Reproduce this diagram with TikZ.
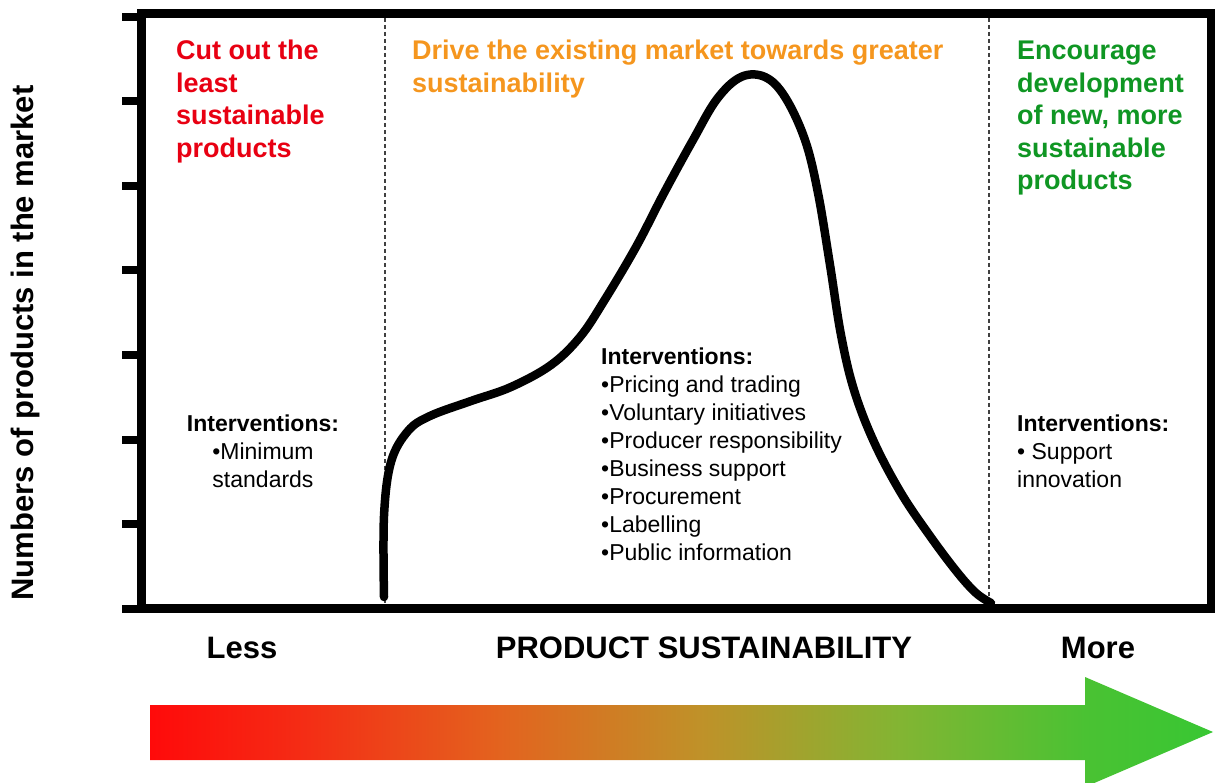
\documentclass[tikz,border=0pt]{standalone}
\usepackage{fontspec}
\setmainfont{Liberation Sans}
\usetikzlibrary{calc}
\definecolor{cutred}{RGB}{232,0,18}
\definecolor{driveorange}{RGB}{245,150,30}
\definecolor{newgreen}{RGB}{15,150,35}
\pgfdeclarehorizontalshading{sustainshade}{100bp}{rgb(0bp)=(1,0.04,0.04); rgb(25bp)=(1,0.04,0.04); rgb(32bp)=(0.96,0.17,0.08); rgb(41.5bp)=(0.89,0.39,0.12); rgb(50.9bp)=(0.75,0.57,0.16); rgb(60.3bp)=(0.51,0.71,0.2); rgb(69bp)=(0.29,0.76,0.2); rgb(75bp)=(0.22,0.78,0.2); rgb(100bp)=(0.22,0.78,0.2)}
\tikzset{
	heading/.style={anchor=north west, inner sep=0pt, align=left, font=\bfseries\fontsize{27}{32.5}\selectfont},
	intervention/.style={inner sep=0pt, font=\fontsize{23}{28}\selectfont},
	axislabel/.style={inner sep=0pt, font=\bfseries\fontsize{31}{36}\selectfont},
	divider/.style={dash pattern=on 4pt off 3pt, line width=1.3pt, black!75},
}

\begin{document}
\begin{tikzpicture}[x=1pt,y=-1pt]
				\useasboundingbox (0,0) rectangle (1215,783);
				
				% axis ticks and frame
				\foreach \k in {0,...,7}
					\draw[line width=8pt] (122,{17+84.5*\k}) -- (141,{17+84.5*\k});
				\draw[line width=9pt] (141,14) rectangle (1211,608);
				\draw[divider] (385,18) -- (385,604);
				\draw[divider] (989,18) -- (989,604);
				
				% distribution of products
				\draw[line width=8.5pt, line cap=round] plot[smooth, tension=0.6] coordinates {
					(384,597) (384,516) (391,462) (408,431) (430,416) (471,401) (511,387)
					(551,365) (580,337) (604,301) (636,247) (664,193) (693,140) (717,99)
					(741,77) (765,77) (785,97) (805,140) (818,193) (830,265) (841,335)
					(854,390) (874,442) (901,493) (930,536) (957,572) (976,593) (991,603)};
				
				% headings
				\node[heading, text=cutred] (cutHead) at (176,40) {Cut out the\\least\\sustainable\\products};
				\node[heading, text=driveorange] (driveHead) at (412,40) {Drive the existing market towards greater\\sustainability};
				\node[heading, text=newgreen] (encourageHead) at (1017,41) {Encourage\\development\\of new, more\\sustainable\\products};
				
				% interventions
				\node[intervention, anchor=north, align=center] (cutInt) at (263,415) {\textbf{Interventions:}\\•Minimum\\standards};
				\node[intervention, anchor=north west, align=left] (driveInt) at (601,348) {\textbf{Interventions:}\\•Pricing and trading\\•Voluntary initiatives\\•Producer responsibility\\•Business support\\•Procurement\\•Labelling\\•Public information};
				\node[intervention, anchor=north west, align=left] (encourageInt) at (1017,415) {\textbf{Interventions:}\\• Support\\innovation};
				
				% axis labels
				\node[axislabel, rotate=90] (ylabel) at (25,343) {Numbers of products in the market};
				\node[axislabel] (less) at (242,648) {Less};
				\node[axislabel] (sustain) at (704,648) {PRODUCT SUSTAINABILITY};
				\node[axislabel] (more) at (1098,648) {More};
				
				% sustainability arrow
				\shade[shading=sustainshade]
					(150,705) -- (1085,705) -- (1085,677) -- (1213,732) -- (1085,787) -- (1085,760) -- (150,760) -- cycle;
\end{tikzpicture}
\end{document}
